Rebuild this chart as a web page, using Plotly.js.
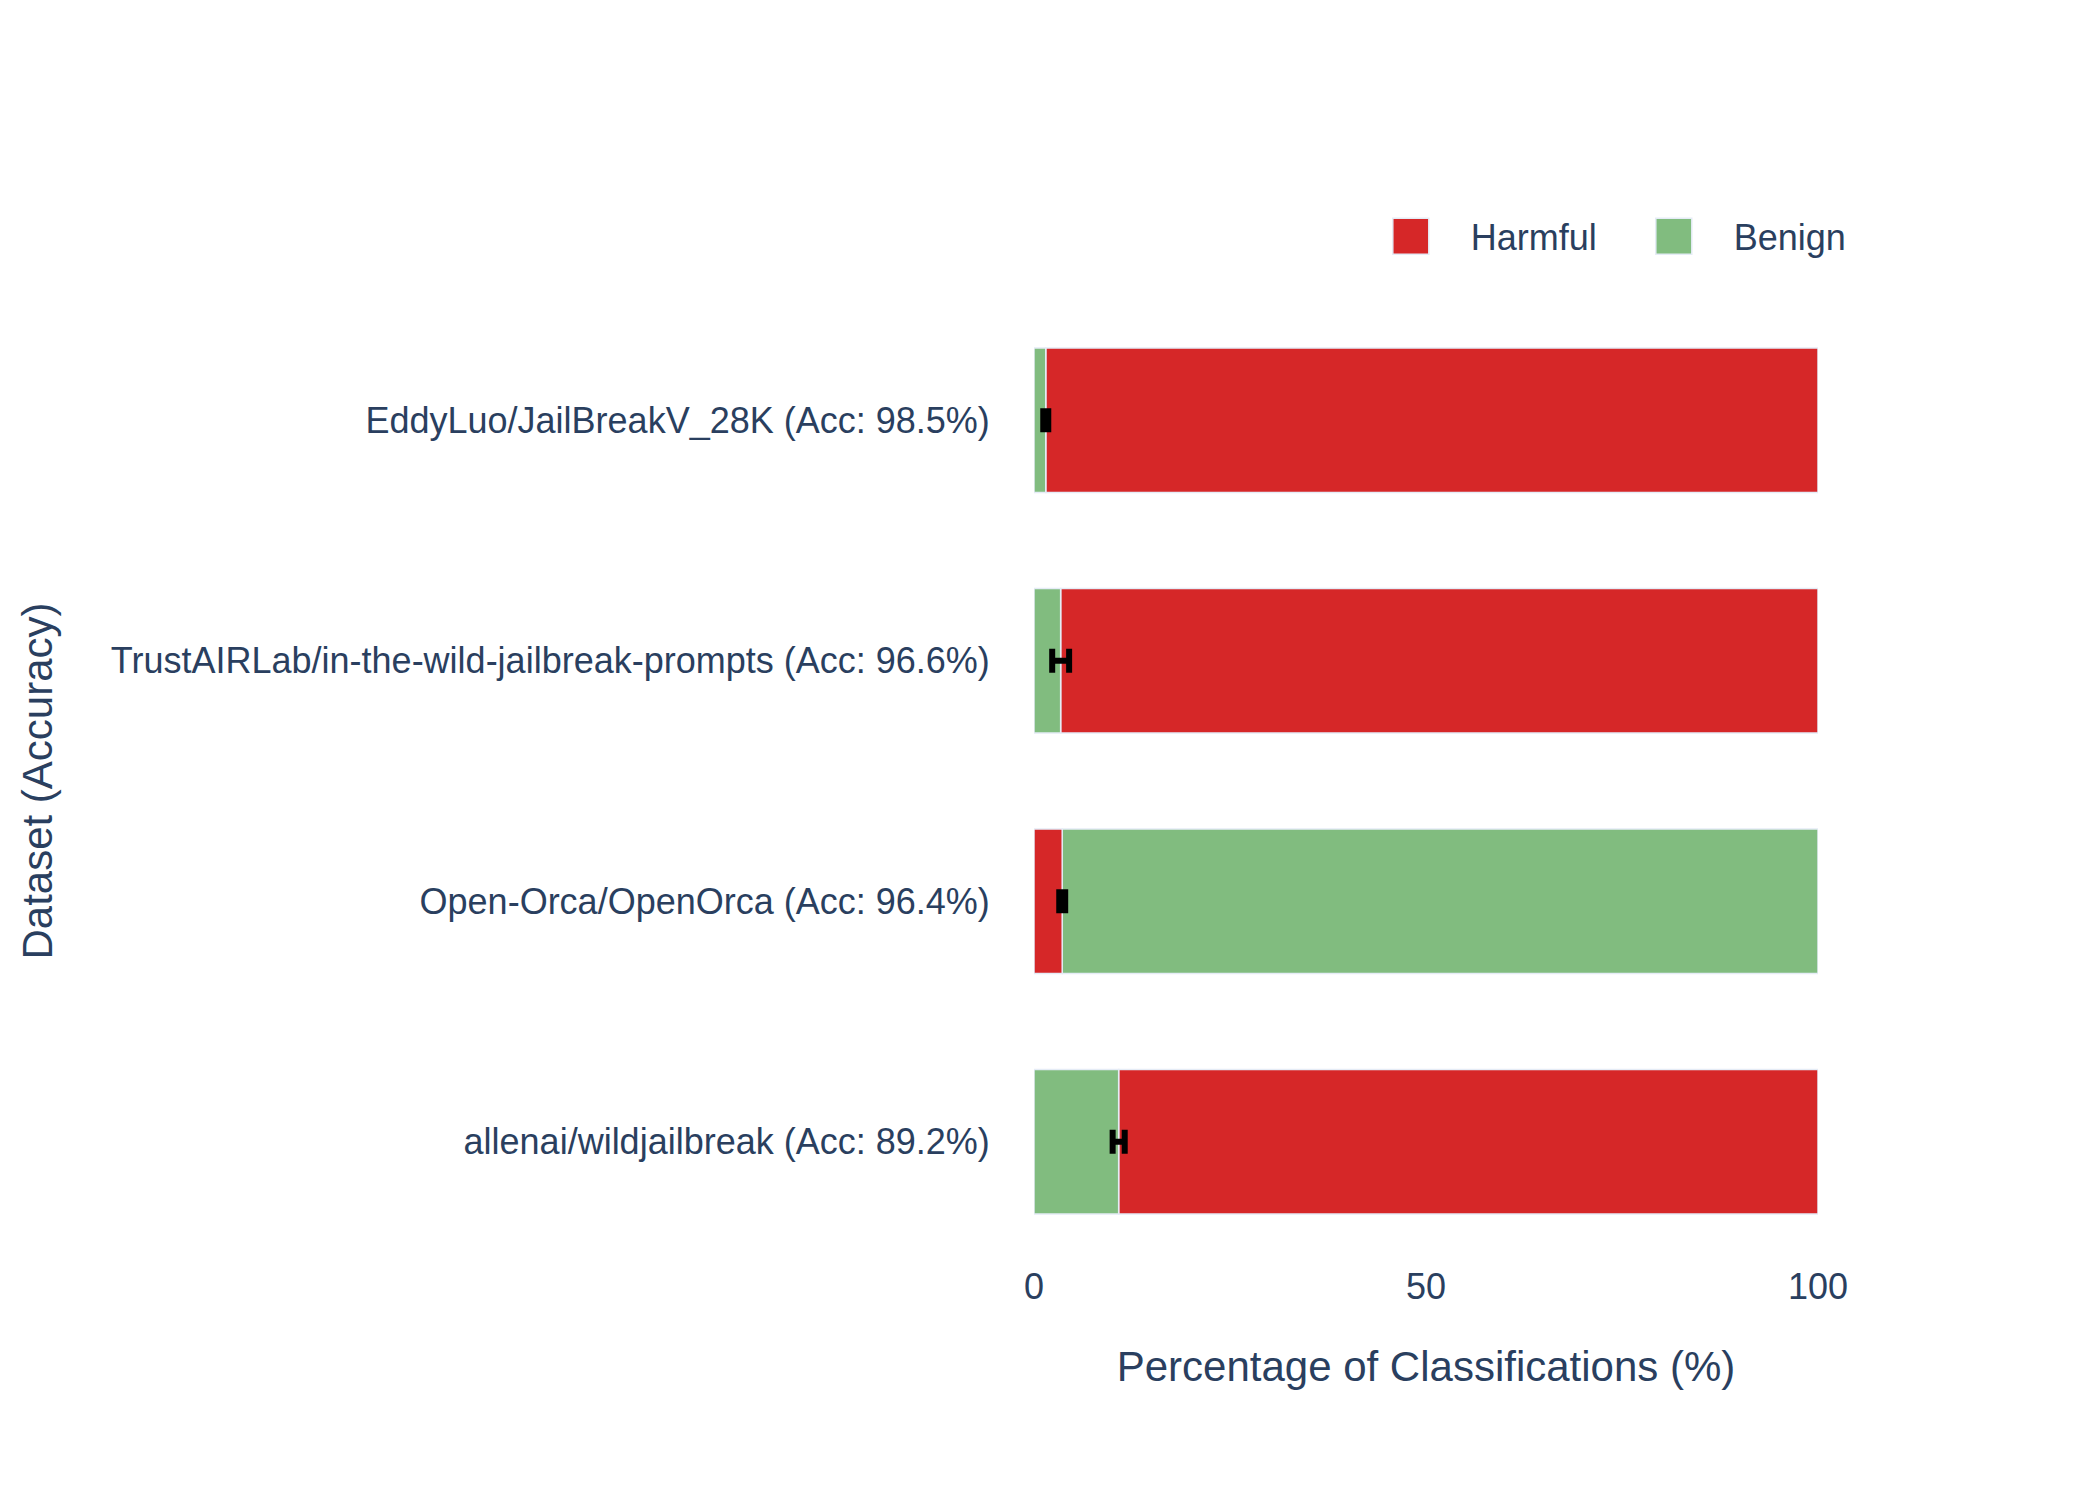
<!DOCTYPE html>
<html>
<head>
<meta charset="utf-8">
<script src="https://cdn.plot.ly/plotly-3.0.1.min.js"></script>
<style>
  html, body { margin: 0; padding: 0; background: #ffffff; overflow: hidden; }
  #chart { width: 2100px; height: 1500px; }
</style>
</head>
<body>
<div id="chart"></div>
<script>
// Data (bottom to top on the y axis)
const tickLabels = [
  'allenai/wildjailbreak (Acc: 89.2%)',
  'Open-Orca/OpenOrca (Acc: 96.4%)',
  'TrustAIRLab/in-the-wild-jailbreak-prompts (Acc: 96.6%)',
  'EddyLuo/JailBreakV_28K (Acc: 98.5%)'
];
const trueClass = ['Harmful', 'Benign', 'Harmful', 'Harmful'];
const correctPct = [89.2, 96.4, 96.6, 98.5];
const wrongPct = [10.8, 3.6, 3.4, 1.5];
const wrongErr = [0.77, 0.38, 1.08, 0.32];

const classColors = { Harmful: '#d62728', Benign: '#81bc7f' };
const legendRank = { Harmful: 1, Benign: 2 };
const otherClass = c => (c === 'Harmful' ? 'Benign' : 'Harmful');

const S = 3; // figure drawn at 3x of a 700x500 design
const traces = [];
const shown = {};
function legendFor(cls) {
  const s = !shown[cls];
  shown[cls] = true;
  return s;
}
const barLine = { color: '#E5ECF6', width: 0.5 * S };

// correct-class segments first (drawn underneath), then misclassified segments with error bars on top
tickLabels.forEach((lab, i) => {
  const cls = trueClass[i];
  traces.push({
    type: 'bar', orientation: 'h',
    y: [lab], x: [correctPct[i]], base: [wrongPct[i]],
    name: cls, legendgroup: cls, legendrank: legendRank[cls],
    showlegend: legendFor(cls),
    marker: { color: classColors[cls], line: barLine }
  });
});
tickLabels.forEach((lab, i) => {
  const wrongCls = otherClass(trueClass[i]);
  traces.push({
    type: 'bar', orientation: 'h',
    y: [lab], x: [wrongPct[i]],
    name: wrongCls, legendgroup: wrongCls, legendrank: legendRank[wrongCls],
    showlegend: legendFor(wrongCls),
    marker: { color: classColors[wrongCls], line: barLine },
    error_x: { type: 'data', array: [wrongErr[i]], visible: true, color: 'black', thickness: 2 * S, width: 4 * S }
  });
});

const fontFam = 'Arial, "Liberation Sans", sans-serif';
const layout = {
  width: 2100, height: 1500,
  barmode: 'overlay',
  bargap: 0.4,
  paper_bgcolor: 'white',
  plot_bgcolor: 'white',
  font: { family: fontFam, size: 12 * S, color: '#2a3f5f' },
  margin: { l: 1034, r: 282, t: 300, b: 238 },
  showlegend: true,
  legend: {
    orientation: 'h', x: 1.075, xanchor: 'right', y: 1.035, yanchor: 'bottom',
    font: { size: 12 * S }, itemwidth: 110, entrywidth: 138
  },
  xaxis: {
    title: { text: 'Percentage of Classifications (%)', font: { size: 14 * S }, standoff: 45 },
    automargin: true,
    range: [0, 100],
    showgrid: true, gridcolor: 'white', zeroline: true, zerolinecolor: 'white', zerolinewidth: 2 * S,
    ticks: '', dtick: 50
  },
  yaxis: {
    title: { text: 'Dataset (Accuracy)', font: { size: 14 * S }, standoff: 45 },
    automargin: true,
    type: 'category',
    categoryorder: 'array', categoryarray: tickLabels,
    showgrid: true, gridcolor: 'white',
    ticks: 'outside', ticklen: 36, tickcolor: 'rgba(0,0,0,0)'
  }
};

Plotly.newPlot('chart', traces, layout, { displayModeBar: false, staticPlot: true }).then(gd => {
  // enlarge legend swatches to match the 3x design (keep Plotly's own centring translate)
  gd.querySelectorAll('.legend .legendpoints path').forEach(p => {
    const t = p.getAttribute('transform') || '';
    p.setAttribute('transform', t + ' scale(' + S + ')');
    p.style.strokeWidth = '0.5px';
  });
});
</script>
</body>
</html>
